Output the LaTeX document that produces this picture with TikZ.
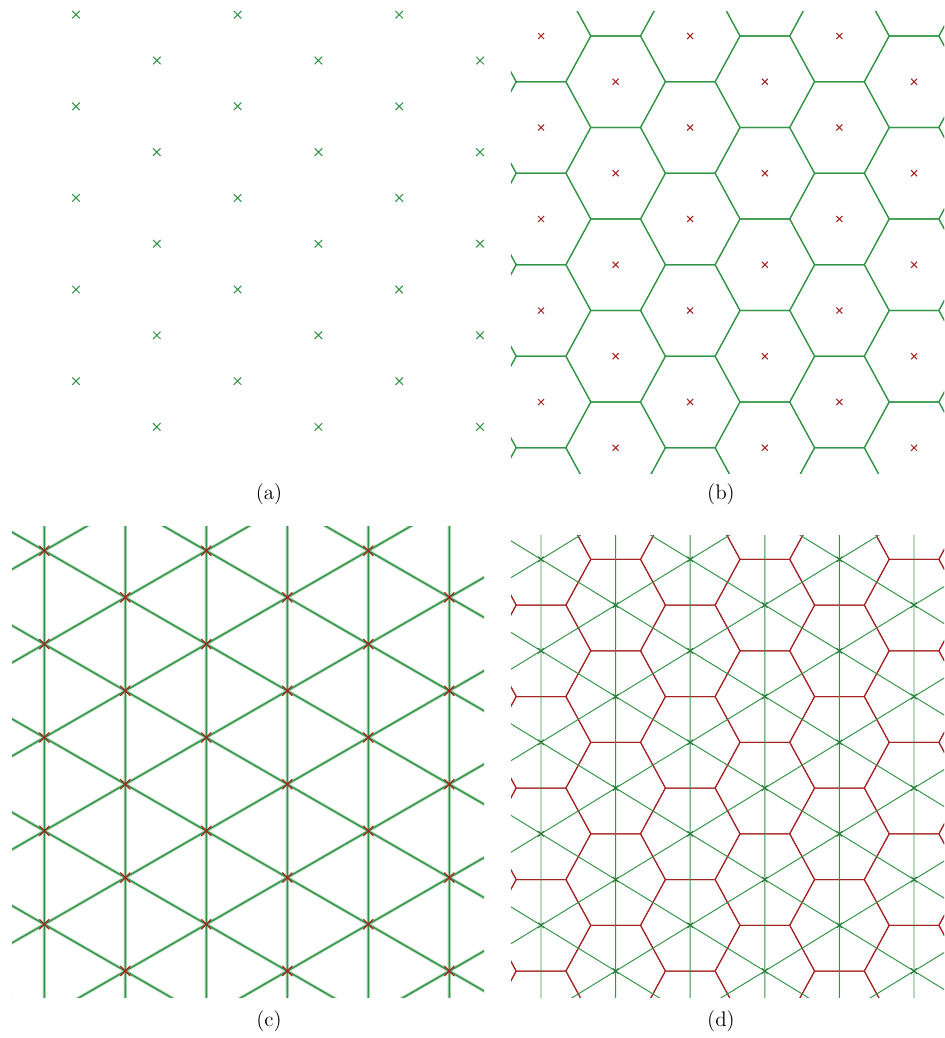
\documentclass[tikz,border=0pt]{standalone}
\usepackage{tikz}
\usetikzlibrary{shapes.misc}
\definecolor{vgreen}{RGB}{50,148,70}
\definecolor{vred}{RGB}{165,35,35}

\begin{document}
\begin{tikzpicture}[x=0.02cm, y=-0.02cm,
        site/.style={cross out, draw, inner sep=0pt, outer sep=0pt},
        asite/.style={site, vgreen, minimum size=0.15cm, line width=0.6pt},
        bsite/.style={site, vred, minimum size=0.12cm, line width=0.6pt},
        csite/.style={site, vred, minimum size=0.2cm, line width=0.7pt},
        dsite/.style={site, vgreen!80!black, minimum size=0.11cm, line width=0.5pt},
        cell/.style={vgreen, line width=0.65pt, line join=miter},
        dcell/.style={vred, line width=0.6pt, line join=miter},
        halo/.style={vgreen!35, line width=1.8pt},
        edge/.style={vgreen, line width=0.8pt},
        dedge/.style={vgreen, line width=0.55pt},
        lab/.style={font=\fontsize{12}{14}\selectfont, inner sep=0pt},
    ]
    \useasboundingbox (0,0) rectangle (944,1038);

    % (a) sites
    \foreach \k in {0,...,5}
        \foreach \j in {0,...,4}
            \node[asite] (a-\k-\j) at ({76+80.8*\k}, {14.7+91.6*\j+45.8*mod(\k,2)}) {};

    % (b) sites and Voronoi cells
    \begin{scope}
        \clip (511,11.3) rectangle (944,473.3);
        \foreach \k in {0,...,7}
            \foreach \j in {-1,...,6} {
                \node[bsite] (b-\k-\j) at ({466.4+74.6*\k}, {-9.75+91.5*\j+45.75*mod(\k,2)}) {};
                \draw[cell] (b-\k-\j.center) ++(-49.7,0) -- ++(24.9,-45.75) -- ++(49.7,0)
                    -- ++(24.9,45.75) -- ++(-24.9,45.75) -- ++(-49.7,0) -- cycle;
            }
    \end{scope}

    % (c) sites and triangulation
    \begin{scope}
        \clip (12,526) rectangle (484,997);
        \foreach \k in {0,...,7}
            \foreach \j in {-1,...,6}
                \coordinate (c-\k-\j) at ({-36.7+81*\k}, {504+93.4*\j+46.7*mod(\k,2)});
        \foreach \s in {halo, edge}
            \foreach \k in {0,...,7}
                \foreach \j in {-1,...,6}
                    \draw[\s] (c-\k-\j) -- ++(0,93.4) (c-\k-\j) -- ++(81,46.7) (c-\k-\j) -- ++(81,-46.7);
        \foreach \k in {0,...,7}
            \foreach \j in {-1,...,6}
                \node[csite] (cs-\k-\j) at (c-\k-\j) {};
    \end{scope}

    % (d) Voronoi cells over the triangulation
    \begin{scope}
        \clip (511,535) rectangle (944,997);
        \foreach \k in {0,...,7}
            \foreach \j in {-1,...,6} {
                \coordinate (d-\k-\j) at ({466.4+74.6*\k}, {513.55+91.5*\j+45.75*mod(\k,2)});
                \draw[dcell] (d-\k-\j) ++(-49.7,0) -- ++(24.9,-45.75) -- ++(49.7,0)
                    -- ++(24.9,45.75) -- ++(-24.9,45.75) -- ++(-49.7,0) -- cycle;
            }
        \foreach \k in {0,...,7}
            \foreach \j in {-1,...,6} {
                \draw[dedge] (d-\k-\j) -- ++(0,91.5) (d-\k-\j) -- ++(74.6,45.75) (d-\k-\j) -- ++(74.6,-45.75);
                \node[dsite] (ds-\k-\j) at (d-\k-\j) {};
            }
    \end{scope}

    \node[lab] (la) at (269,494) {(a)};
    \node[lab] (lb) at (721,494) {(b)};
    \node[lab] (lc) at (269,1021) {(c)};
    \node[lab] (ld) at (721,1021) {(d)};

\end{tikzpicture}
\end{document}
